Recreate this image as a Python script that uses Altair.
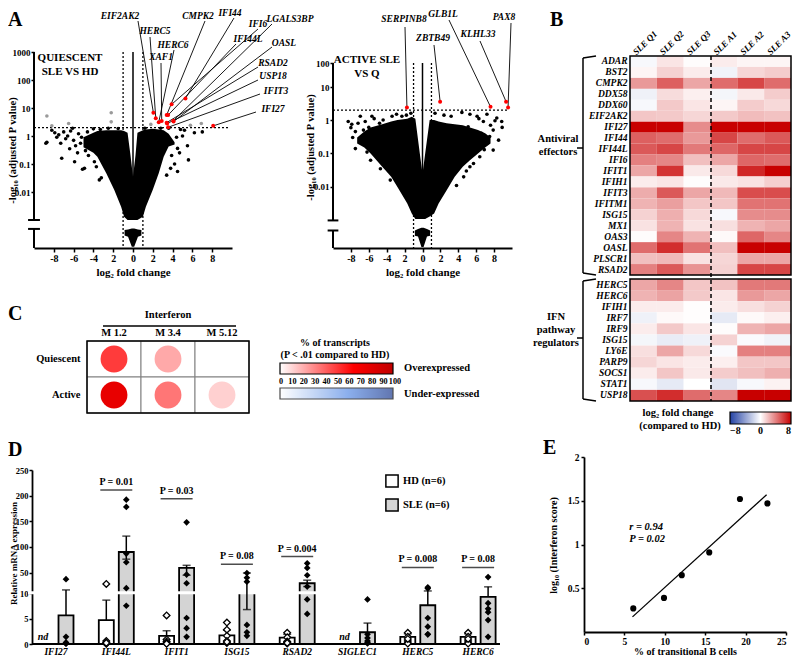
import altair as alt
import pandas as pd

FONT = "Liberation Serif"
W, H = 784, 649

# ======================= DATA =======================
# ---- Panel A (left): quiescent SLE vs HD volcano ----
qa_env_x = [-5.0, -4.0, -3.6, -2.7, -1.9, -1.2, -0.9, -0.55, -0.25, 0.0, 0.25, 0.45, 1.0, 1.3, 2.0, 2.6, 3.1, 3.6, 4.2]
qa_env_hi = [0.9, 1.3, 1.5, 1.6, 1.6, 1.6, 1.5, 1.3, 0.2, 0.035, 0.2, 1.3, 1.6, 1.7, 1.8, 1.7, 1.6, 1.2, 0.6]
qa_env_lo = [0.4, 0.25, 0.18, 0.047, 0.012, 0.003, 0.0013, 0.001, 0.001, 0.001, 0.001, 0.001, 0.0013, 0.003, 0.012, 0.047, 0.18, 0.42, 0.5]
qa_tail_x = [-0.85, -0.5, -0.12, 0.12, 0.5, 0.85]
qa_tail_hi = [0.00044, 0.00046, 0.0005, 0.0005, 0.00046, 0.00044]
qa_tail_lo = [0.00028, 0.00025, 0.00011, 0.00011, 0.00025, 0.00028]
qa_points = [(-8.8, 0.55), (-8.7, 0.6), (-7.2, 0.16), (-5.9, 0.12), (-5.1, 0.065), (-4.9, 0.07), (-3.4, 0.027),
             (-3.2, 0.032), (-8.2, 1.6), (-7.9, 1.3), (-7.5, 1.1), (-7.0, 1.4), (-6.6, 1.0), (-6.3, 1.5), (-6.0, 0.7),
             (-5.5, 1.2), (-5.2, 0.9), (-4.6, 1.4), (-4.3, 0.5), (-6.8, 0.8), (-7.7, 0.9), (-5.8, 0.45), (-6.4, 0.35),
             (-4.8, 0.3), (-3.9, 0.12), (-3.7, 0.08), (-5.3, 0.55), (-4.5, 0.2), (-6.1, 1.9), (-4.0, 1.8), (-3.3, 1.7),
             (-2.5, 1.9), (-1.5, 1.85), (-7.3, 0.55), (-5.6, 0.25), (-4.2, 0.9),
             (4.5, 0.36), (5.6, 0.14), (4.5, 0.054), (6.2, 1.3), (7.0, 1.4), (5.0, 1.0), (4.8, 1.7), (4.4, 0.9),
             (5.5, 0.45), (3.9, 0.2), (4.7, 0.25), (4.2, 0.1), (3.8, 0.07), (3.4, 0.04), (5.2, 1.6), (2.8, 1.9),
             (3.6, 1.9), (1.2, 1.9)]
qa_grey = [(-8.7, 5.2), (-6.5, 2.8), (-2.2, 6.8), (-2.2, 3.2), (6.9, 2.8), (-8.2, 2.3), (1.8, 2.6), (5.8, 2.4)]
qa_red_genes = ["EIF2AK2", "HERC5", "HERC6", "XAF1", "CMPK2", "IFI44", "IFI6", "IFI44L",
                "LGALS3BP", "OASL", "RSAD2", "USP18", "IFIT3", "IFI27"]
qa_red_fc = [2.06, 2.3, 2.6, 2.9, 3.4, 5.3, 3.9, 3.55, 4.07, 4.1, 3.4, 3.45, 3.55, 8.1]
qa_red_p = [6.8, 4.3, 3.1, 3.4, 5.6, 22, 13.5, 5.6, 3.5, 3.3, 3.0, 2.8, 2.05, 2.3]

# ---- Panel A (right): active SLE vs quiescent volcano ----
aa_env_x = [-7.3, -6.5, -5.8, -4.5, -3.5, -2.8, -1.7, -1.2, -0.8, -0.3, 0.0, 0.3, 0.8, 1.3, 1.8, 2.7, 3.6, 4.5, 5.3, 6.2, 7.0, 7.6]
aa_env_hi = [0.3, 0.45, 0.6, 0.75, 0.9, 1.0, 1.1, 1.25, 1.1, 0.1, 0.025, 0.1, 1.0, 1.0, 0.9, 0.8, 0.75, 0.7, 0.6, 0.5, 0.4, 0.3]
aa_env_lo = [0.2, 0.15, 0.1, 0.04, 0.02, 0.01, 0.0032, 0.0016, 0.0011, 0.0011, 0.0011, 0.0011, 0.0013, 0.0016, 0.0032, 0.008, 0.02, 0.04, 0.063, 0.1, 0.15, 0.2]
aa_tail_x = [-0.85, -0.5, -0.12, 0.12, 0.5, 0.85]
aa_tail_hi = [0.0005, 0.00055, 0.0006, 0.0006, 0.00055, 0.0005]
aa_tail_lo = [0.00035, 0.00033, 0.00016, 0.00016, 0.00033, 0.00035]
aa_points = [(-8.0, 0.59), (-7.5, 0.45), (-6.95, 1.3), (-7.5, 0.14), (-6.6, 0.5), (-5.65, 1.3), (-3.4, 1.3),
             (-2.9, 1.5), (-2.3, 1.3), (-5.8, 0.063), (-4.7, 0.035), (-3.6, 0.016), (-6.2, 0.11), (-6.8, 0.25),
             (-7.2, 0.8), (-6.4, 0.9), (-5.2, 0.3), (-4.4, 1.0), (-4.0, 0.4), (-5.0, 0.15), (-3.0, 0.06),
             (-2.5, 0.03), (-7.8, 0.3), (-6.0, 0.6), (-4.8, 0.8), (-1.8, 1.4), (-1.3, 1.6), (-8.3, 0.9),
             (-7.9, 0.75), (-5.4, 1.1), (-6.3, 0.18), (-4.1, 0.07),
             (8.3, 1.15), (8.85, 0.9), (7.2, 1.5), (6.1, 1.3), (5.3, 1.5), (7.9, 0.5), (8.5, 0.25), (7.9, 0.126),
             (7.2, 0.2), (6.4, 0.08), (5.3, 0.04), (4.6, 0.02), (3.8, 0.011), (6.6, 0.4), (7.5, 0.32), (4.4, 1.7),
             (5.1, 0.63), (6.8, 0.9), (7.6, 0.7), (5.8, 0.25), (6.9, 0.13), (3.2, 1.3), (2.4, 1.4), (1.4, 1.6),
             (8.9, 0.6), (8.1, 0.95), (6.3, 1.1), (5.7, 0.05), (4.9, 0.03)]
aa_red_genes = ["SERPINB8", "ZBTB49", "GLB1L", "KLHL33", "PAX8"]
aa_red_fc = [-1.74, 1.97, 7.6, 9.34, 9.56]
aa_red_p = [2.4, 3.55, 2.5, 3.6, 2.4]

# ---- Panel B (heatmap, log2 fold change vs HD) ----
samples = ["SLE Q1", "SLE Q2", "SLE Q3", "SLE A1", "SLE A2", "SLE A3"]
antiviral_genes = ["ADAR", "BST2", "CMPK2", "DDX58", "DDX60", "EIF2AK2", "IFI27", "IFI44", "IFI44L", "IFI6",
                   "IFIT1", "IFIH1", "IFIT3", "IFITM1", "ISG15", "MX1", "OAS3", "OASL", "PLSCR1", "RSAD2"]
antiviral_lfc = [
    [-0.3, 0.8, 0.1, 0.6, 0.3, 0.3],
    [0.3, 1.4, 0.6, -0.5, 1.3, 1.6],
    [3.2, 5.0, 2.8, 4.6, 5.8, 4.6],
    [-0.6, 1.1, 0.5, -0.4, 0.7, 1.6],
    [-0.3, 1.7, 0.8, 0.3, 1.6, 1.2],
    [1.8, 1.7, 1.3, 1.7, 2.1, 1.9],
    [8.0, 8.0, 3.6, 8.0, 8.0, 8.0],
    [5.0, 4.6, 3.2, 5.8, 4.6, 5.2],
    [5.2, 5.8, 4.2, 4.8, 5.8, 5.8],
    [4.0, 3.8, 2.0, 2.8, 4.8, 4.6],
    [2.8, 6.4, 0.7, 1.2, 6.8, 8.0],
    [0.6, 0.8, 0.1, 0.7, 0.9, 1.5],
    [2.6, 5.2, 2.8, 2.2, 5.6, 5.6],
    [2.4, 3.0, 1.8, 1.8, 4.4, 4.4],
    [1.4, 2.5, 1.2, -0.3, 3.6, 3.6],
    [0.9, 2.4, 0.9, 1.0, 2.4, 2.8],
    [0.1, 3.8, 2.4, 0.2, 4.8, 3.8],
    [4.6, 6.6, 4.4, 2.0, 8.0, 8.0],
    [2.0, 2.2, 0.9, 1.3, 2.8, 2.8],
    [4.0, 5.2, 3.4, 1.4, 5.8, 5.8],
]
ifn_genes = ["HERC5", "HERC6", "IFIH1", "IRF7", "IRF9", "ISG15", "LY6E", "PARP9", "SOCS1", "STAT1", "USP18"]
ifn_lfc = [
    [2.8, 3.8, 1.8, 1.9, 4.2, 4.2],
    [2.4, 2.9, 1.7, 0.8, 3.2, 2.8],
    [0.6, 0.6, 0.05, 0.6, 1.0, 1.4],
    [-0.6, 0.2, 0.05, -0.9, 0.2, 0.5],
    [0.6, 1.7, 0.8, 0.1, 2.4, 2.8],
    [-0.4, -0.8, -0.6, 1.4, -0.2, -0.5],
    [1.0, 2.8, 1.2, -0.2, 4.0, 4.0],
    [1.3, 0.8, 0.6, 0.5, 1.8, 1.8],
    [0.6, 1.8, 0.7, 1.6, 2.0, 2.5],
    [-0.3, -0.9, 0.0, -1.1, -0.3, 0.4],
    [5.5, 6.6, 4.6, 3.8, 8.0, 8.0],
]

# ---- Panel C (% of transcripts in interferon modules) ----
modules = ["M 1.2", "M 3.4", "M 5.12"]
states = ["Quiescent", "Active"]
pct_quiescent = [50, 22, 0]
pct_active = [78, 35, 12]
pct_ticks = [0, 10, 20, 30, 40, 50, 60, 70, 80, 90, 100]

# ---- Panel D (qPCR) ----
d_genes = ["IFI27", "IFI44L", "IFIT1", "ISG15", "RSAD2", "SIGLEC1", "HERC5", "HERC6"]
hd_mean = [None, 4.7, 1.6, 1.7, 1.25, None, 1.4, 1.4]
hd_upper = [None, 8.6, 2.6, 2.7, 1.9, None, 2.0, 2.0]
sle_mean = [5.6, 90, 59, 10, 29, 2.3, 7.6, 9.25]
sle_upper = [16, 121, 64, 49, 35, 4.1, 14, 22]
sle_lower = [None, 76, 44.6, 6.75, 22.6, None, None, None]
hd_values = [[], [27.6, 0.6, 0.3, 0.1, 0.05, 0.2], [5.6, 0.9, 0.5, 0.1, 0.2, 0.05],
             [4.2, 2.8, 1.6, 0.6, 0.2, 0.4], [2.2, 1.3, 0.5, 0.3, 0.1, 0.2], [],
             [2.2, 1.4, 0.6, 0.2, 0.1, 1.0], [2.2, 1.4, 0.6, 0.2, 0.1, 1.0]]
sle_values = [[37, 1.4, 0.2, 0.1, 0.3, 0.05], [192, 178, 87, 70, 19.4, 7.5], [148, 46, 29, 5.1, 3.1, 1.4],
              [49, 40, 32, 3.75, 2.3, 1.6], [68, 59, 44.6, 22.6, 8.75, 5.9], [8.75, 1.9, 1.2, 0.6, 0.3, 0.1],
              [21, 19, 5.1, 3.4, 1.9, 1.9], [41, 6.9, 6.25, 4.7, 1.4, 8.0]]
p_genes = ["IFI44L", "IFIT1", "ISG15", "RSAD2", "HERC5", "HERC6"]
p_text = ["P = 0.01", "P = 0.03", "P = 0.08", "P = 0.004", "P = 0.008", "P = 0.08"]
p_level = [211, 194, 66, 81, 60, 60]
nd_genes = ["IFI27", "SIGLEC1"]
groups = ["HD (n=6)", "SLE (n=6)"]

# ---- Panel E (correlation) ----
e_transitional = [6.1, 9.9, 12.1, 15.5, 19.3, 22.7]
e_log_ifn = [0.27, 0.39, 0.65, 0.91, 1.52, 1.47]

# ======================= LAYOUT (pixels) =======================
qa_label_layout = {  # text x, text y, leader start x, leader start y
    "EIF2AK2": (112, 8, 130, 13), "HERC5": (147, 23, 142, 29), "HERC6": (165, 37, 166, 42),
    "XAF1": (153, 49, 153, 55), "CMPK2": (190, 8, 197, 13), "IFI44": (222, 5, 226, 10),
    "IFI6": (250, 16, 250, 21), "IFI44L": (240, 31, 228, 36), "LGALS3BP": (282, 11, 264, 16),
    "OASL": (276, 35, 264, 39), "RSAD2": (265, 55, 250, 59), "USP18": (265, 68, 250, 72),
    "IFIT3": (268, 83, 252, 86), "IFI27": (265, 101, 248, 104)}
aa_label_layout = {
    "SERPINB8": (396, 11, 397, 19), "ZBTB49": (425, 30, 426, 37), "GLB1L": (435, 6, 441, 12),
    "KLHL33": (470, 26, 472, 33), "PAX8": (496, 9, 503, 15)}

AXS = dict(labelFont=FONT, labelFontWeight="bold", labelColor="black", titleFont=FONT,
           titleFontWeight="bold", titleColor="black", domainColor="black", tickColor="black", grid=False)
ONE = pd.DataFrame({"k": [0]})


def tx(s, x, y, size=10.5, style="normal", align="center", baseline="middle", weight="bold"):
    return alt.Chart(ONE).mark_text(text=s, font=FONT, fontSize=size, fontStyle=style, fontWeight=weight,
                                    align=align, baseline=baseline, color="black").encode(
        x=alt.value(x), y=alt.value(y))


def pr(x1, y1, x2, y2, w=1.5, dash=None, color="black"):
    kw = dict(color=color, strokeWidth=w)
    if dash:
        kw["strokeDash"] = dash
    return alt.Chart(ONE).mark_rule(**kw).encode(x=alt.value(x1), y=alt.value(y1), x2=alt.value(x2), y2=alt.value(y2))


def frame(x1, y1, x2, y2, w=1.5, color="black"):
    return alt.Chart(ONE).mark_rect(fillOpacity=0, stroke=color, strokeWidth=w).encode(
        x=alt.value(x1), x2=alt.value(x2), y=alt.value(y1), y2=alt.value(y2))


def volcano(env, tail, pts, grey, reds, layout, xr, ydom, yr, yvals, ytop, seg1, seg2, ybot, title_x, title_y):
    xs = alt.Scale(domain=[-10, 10], range=xr, nice=False, zero=False)
    ys = alt.Scale(type="log", domain=ydom, range=yr, nice=False)
    xaxis = alt.Axis(orient="bottom", offset=yr[0] - H, values=[-8, -6, -4, -2, 0, 2, 4, 6, 8],
                     labelExpr="datum.value == -2 ? '2' : toString(datum.value)", title="log₂ fold change",
                     labelFontSize=10, titleFontSize=11, domainWidth=2, tickWidth=1.5, tickSize=4,
                     labelPadding=1, titlePadding=3, **AXS)
    yaxis = alt.Axis(orient="left", offset=-xr[0], values=yvals, labelExpr="format(datum.value, '~g')",
                     title="-log₁₀ (adjusted P value)", domain=False, labelFontSize=9, titleFontSize=10.5,
                     tickWidth=1.5, tickSize=3, labelPadding=1, titleX=title_x, titleY=title_y, **AXS)

    def X(f):
        return alt.X(f, type="quantitative", scale=xs, axis=xaxis)

    def Y(f):
        return alt.Y(f, type="quantitative", scale=ys, axis=yaxis)

    env_df = pd.DataFrame({"x": env[0], "hi": env[1], "lo": env[2]})
    tail_df = pd.DataFrame({"x": tail[0], "hi": tail[1], "lo": tail[2]})
    layers = [
        alt.Chart(env_df).mark_area(color="black", opacity=1).encode(x=X("x"), y=Y("hi"), y2="lo:Q"),
        alt.Chart(tail_df).mark_area(color="black", opacity=1).encode(x=X("x"), y=Y("hi"), y2="lo:Q"),
        alt.Chart(pd.DataFrame(pts, columns=["x", "y"])).mark_circle(color="black", size=13, opacity=1).encode(
            x=X("x"), y=Y("y")),
    ]
    solid = pd.DataFrame({"x": [-10, -10, -10.6, -10.6], "x2": [-10, -10, -9.4, -9.4],
                          "y": [ytop, seg2, seg1, seg2], "y2": [seg1, ybot, seg1, seg2]})
    layers.append(alt.Chart(solid).mark_rule(color="black", strokeWidth=2).encode(
        x=X("x"), x2="x2:Q", y=Y("y"), y2="y2:Q"))
    zero = pd.DataFrame({"x": [0], "y": [ytop], "y2": [0.01]})
    layers.append(alt.Chart(zero).mark_rule(color="black", strokeWidth=1.5).encode(x=X("x"), y=Y("y"), y2="y2:Q"))
    dotted = pd.DataFrame({"x": [-1, 1, -10], "x2": [-1, 1, 9.6], "y": [ytop, ytop, 2], "y2": [ybot, ybot, 2]})
    layers.append(alt.Chart(dotted).mark_rule(color="black", strokeWidth=1.3, strokeDash=[2, 2]).encode(
        x=X("x"), x2="x2:Q", y=Y("y"), y2="y2:Q"))
    if grey:
        layers.append(alt.Chart(pd.DataFrame(grey, columns=["x", "y"])).mark_circle(
            color="#9a9a9a", size=13, opacity=1).encode(x=X("x"), y=Y("y")))
    for g, fx, py in zip(*reds):
        lx_t, ly_t, lx, ly = layout[g]
        one = pd.DataFrame({"x": [fx], "y": [py]})
        layers.append(alt.Chart(one).mark_rule(color="black", strokeWidth=0.9).encode(
            x=X("x"), y=Y("y"), x2=alt.value(lx), y2=alt.value(ly)))
    red_df = pd.DataFrame({"g": reds[0], "x": reds[1], "y": reds[2]})
    layers.append(alt.Chart(red_df).mark_circle(color="#ff0000", size=16, opacity=1).encode(x=X("x"), y=Y("y")))
    labels = [tx(g, layout[g][0], layout[g][1], size=9.5, style="italic") for g in reds[0]]
    return alt.layer(*layers), labels


A1, A1_labels = volcano((qa_env_x, qa_env_hi, qa_env_lo), (qa_tail_x, qa_tail_hi, qa_tail_lo), qa_points, qa_grey,
                        (qa_red_genes, qa_red_fc, qa_red_p), qa_label_layout, [26, 224], [0.0001, 1000], [240, 44],
                        [0.01, 0.1, 1, 10, 100, 1000], 1000, 0.001, 0.00048, 0.0001, -17, 142)
A2, A2_labels = volcano((aa_env_x, aa_env_hi, aa_env_lo), (aa_tail_x, aa_tail_hi, aa_tail_lo), aa_points, [],
                        (aa_red_genes, aa_red_fc, aa_red_p), aa_label_layout, [325, 504], [0.00015, 1, 10, 100],
                        [240, 112, 79, 55], [0.01, 0.1, 1, 10, 100], 100, 0.001, 0.0005, 0.00015, -18, 139)

# ---------------- Panel B ----------------
av_df = pd.DataFrame([(g, s, v) for g, row in zip(antiviral_genes, antiviral_lfc) for s, v in zip(samples, row)],
                     columns=["gene", "sample", "lfc"])
ifn_df = pd.DataFrame([(g, s, v) for g, row in zip(ifn_genes, ifn_lfc) for s, v in zip(samples, row)],
                      columns=["gene", "sample", "lfc"])
hm_x = alt.Scale(domain=samples, range=[622, 783], paddingInner=0, paddingOuter=0)
hm_color = alt.Scale(domain=[-8, 0, 8], range=["#2442a3", "#ffffff", "#c80000"], interpolate="rgb")
hm_top = alt.Axis(orient="top", offset=-48, labelAngle=-45, labelAlign="left", labelBaseline="middle",
                  labelFontStyle="italic", labelFontSize=9, ticks=False, domain=False, labelPadding=3,
                  labelOffset=-9, title=None, **AXS)


def hm_left():
    return alt.Axis(orient="left", offset=-622, labelFontStyle="italic", labelFontSize=9.5, ticks=False,
                    domain=False, labelPadding=3, title=None, **AXS)


hm_legend = alt.Legend(orient="none", legendX=722, legendY=404, direction="horizontal", gradientLength=61,
                       gradientThickness=12, values=[-8, 0, 8], title=None, labelFont=FONT,
                       labelFontWeight="bold", labelFontSize=10, labelColor="black",
                       gradientStrokeColor="black", gradientStrokeWidth=1.2, padding=0, labelOffset=2)
hm1 = alt.Chart(av_df).mark_rect().encode(
    x=alt.X("sample:N", scale=hm_x, axis=hm_top, sort=samples),
    y=alt.Y("gene:N", scale=alt.Scale(domain=antiviral_genes, range=[48, 267], paddingInner=0, paddingOuter=0),
            axis=hm_left(), sort=antiviral_genes),
    color=alt.Color("lfc:Q", scale=hm_color, legend=hm_legend))
hm2 = alt.Chart(ifn_df).mark_rect().encode(
    x=alt.X("sample:N", scale=hm_x, axis=hm_top, sort=samples),
    y=alt.Y("gene:N", scale=alt.Scale(domain=ifn_genes, range=[271, 393], paddingInner=0, paddingOuter=0),
            axis=hm_left(), sort=ifn_genes),
    color=alt.Color("lfc:Q", scale=hm_color, legend=hm_legend))
B = alt.layer(hm1, hm2).resolve_scale(y="independent")

b_extra = [
    frame(622, 48, 783, 267), frame(622, 271, 783, 393),
    pr(703, 48, 703, 393, w=1.5, dash=[4, 3]),
    pr(575, 50, 575, 265), pr(575, 50, 588, 48), pr(575, 265, 588, 267), pr(569, 140, 575, 140),
    pr(575, 273, 575, 391), pr(575, 273, 588, 271), pr(575, 391, 588, 393), pr(569, 330, 575, 330),
    tx("Antiviral", 550, 131, size=10.5), tx("effectors", 550, 144, size=10.5),
    tx("IFN", 548, 309, size=10.5), tx("pathway", 548, 322, size=10.5), tx("regulators", 548, 335, size=10.5),
    tx("log₂ fold change", 670, 405, size=10.5), tx("(compared to HD)", 672, 418, size=10.5),
]

# ---------------- Panel C ----------------
c_df = pd.DataFrame([(m, "Quiescent", v) for m, v in zip(modules, pct_quiescent)] +
                    [(m, "Active", v) for m, v in zip(modules, pct_active)], columns=["module", "state", "pct"])
cx = alt.Scale(domain=modules, range=[79, 241], paddingInner=0, paddingOuter=0)
cy = alt.Scale(domain=states, range=[333, 405], paddingInner=0, paddingOuter=0)
c_top = alt.Axis(orient="top", offset=-333, ticks=False, domain=False, labelPadding=4, labelFontSize=10.5,
                 labelAngle=0, title=None, **AXS)
c_left = alt.Axis(orient="left", offset=-79, ticks=False, domain=False, labelPadding=7, labelFontSize=10.5,
                  title=None, **AXS)
legend_common = dict(orient="none", legendX=272, direction="horizontal", gradientLength=113, gradientThickness=11,
                     values=[0, 100], title=None, labelExpr="''", labelFont=FONT, labelFontSize=8,
                     gradientStrokeColor="black", gradientStrokeWidth=1.2, padding=0)
cells = alt.Chart(c_df).mark_rect(fill="white", stroke="#808080", strokeWidth=1).encode(
    x=alt.X("module:N", scale=cx, axis=c_top, sort=modules),
    y=alt.Y("state:N", scale=cy, axis=c_left, sort=states))
circles = alt.Chart(c_df).mark_circle(size=720, opacity=1).encode(
    x=alt.X("module:N", scale=cx, axis=c_top, sort=modules),
    y=alt.Y("state:N", scale=cy, axis=c_left, sort=states),
    color=alt.Color("pct:Q", scale=alt.Scale(domain=[0, 65, 100], range=["#ffffff", "#ff0000", "#c00000"],
                                             interpolate="rgb"),
                    legend=alt.Legend(legendY=355, **legend_common)))
blue = alt.Chart(pd.DataFrame({"pct": [0, 100]})).mark_circle(size=0).encode(
    color=alt.Color("pct:Q", scale=alt.Scale(domain=[0, 60, 100], range=["#ffffff", "#5b8ee6", "#1f3c8f"],
                                             interpolate="rgb"),
                    legend=alt.Legend(legendY=380, **legend_common)))
C = alt.layer(cells, circles, blue).resolve_scale(color="independent")
c_ticks = alt.Chart(pd.DataFrame({"v": pct_ticks})).mark_text(
    font=FONT, fontSize=8.2, fontWeight="bold", color="black", baseline="middle").encode(
    x=alt.X("v:Q", scale=alt.Scale(domain=[0, 100], range=[273, 387], nice=False, zero=False), axis=None),
    y=alt.value(374), text="v:Q")
c_extra = [
    frame(79, 333, 241, 405), c_ticks,
    tx("Interferon", 160, 307, size=10.5), pr(95, 318, 228, 318, w=1.5),
    tx("% of transcripts", 327, 335, size=10), tx("(P < .01 compared to HD)", 327, 347, size=10),
    tx("Overexpressed", 396, 360, size=10.5, align="left"), tx("Under-expressed", 396, 386, size=10.5, align="left"),
]

# ---------------- Panel D ----------------
dx = alt.Scale(domain=d_genes, range=[17.85, 500.25], paddingInner=0, paddingOuter=0)
dy = alt.Scale(domain=[0, 10, 250], range=[636, 585, 462], nice=False, zero=False)
fill_scale = alt.Scale(domain=groups, range=["#ffffff", "#d4d4d4"])
d_xaxis = alt.Axis(orient="bottom", offset=636 - H, ticks=False, domain=False, labelFontStyle="italic",
                   labelFontSize=9.5, labelPadding=2, labelAngle=0, title=None, **AXS)
d_yaxis = alt.Axis(orient="left", offset=-24, values=[0, 5, 10, 50, 100, 150, 200, 250], format="d",
                   title="Relative mRNA expression", labelFontSize=8.5, titleFontSize=9, tickSize=3,
                   tickWidth=1.5, domainWidth=1.8, labelPadding=1, titleX=-14, titleY=545, **AXS)
d_legend = alt.Legend(orient="none", legendX=377, legendY=466, title=None, symbolType="square", symbolSize=150,
                      symbolStrokeColor="black", symbolStrokeWidth=1.5, labelFont=FONT, labelFontWeight="bold",
                      labelFontSize=10.5, labelColor="black", rowPadding=4, padding=0)


def DX():
    return alt.X("gene:N", scale=dx, axis=d_xaxis, sort=d_genes)


def DY(f):
    return alt.Y(f, type="quantitative", scale=dy, axis=d_yaxis)


hd_bar_df = pd.DataFrame({"gene": d_genes, "mean": hd_mean, "hi": hd_upper, "group": groups[0]}).dropna()
sle_bar_df = pd.DataFrame({"gene": d_genes, "mean": sle_mean, "hi": sle_upper, "group": groups[1]})
sle_lo_df = pd.DataFrame({"gene": d_genes, "mean": sle_mean, "lo": sle_lower}).dropna()
hd_pts = pd.DataFrame([(g, v) for g, vs in zip(d_genes, hd_values) for v in vs], columns=["gene", "v"])
sle_pts = pd.DataFrame([(g, v) for g, vs in zip(d_genes, sle_values) for v in vs], columns=["gene", "v"])
p_df = pd.DataFrame({"gene": p_genes, "t": p_text, "lvl": p_level})
nd_df = pd.DataFrame({"gene": nd_genes, "v": [1.3, 1.3]})
base_df = pd.DataFrame({"v": [0]})
break_df = pd.DataFrame({"v": [10.5]})

D = alt.layer(
    alt.Chart(hd_bar_df).mark_bar(size=15, xOffset=-10, stroke="black", strokeWidth=1.8).encode(
        x=DX(), y=DY("mean"), fill=alt.Fill("group:N", scale=fill_scale, legend=d_legend)),
    alt.Chart(sle_bar_df).mark_bar(size=15, xOffset=10, stroke="black", strokeWidth=1.8).encode(
        x=DX(), y=DY("mean"), fill=alt.Fill("group:N", scale=fill_scale, legend=d_legend)),
    alt.Chart(break_df).mark_rule(color="white", strokeWidth=3).encode(
        y=DY("v"), x=alt.value(20), x2=alt.value(500)),
    alt.Chart(base_df).mark_rule(color="black", strokeWidth=1.8).encode(
        y=DY("v"), x=alt.value(24), x2=alt.value(492)),
    alt.Chart(hd_bar_df).mark_rule(xOffset=-10, color="black", strokeWidth=1.5).encode(x=DX(), y=DY("mean"), y2="hi:Q"),
    alt.Chart(hd_bar_df).mark_tick(xOffset=-10, color="black", size=8, thickness=1.5).encode(x=DX(), y=DY("hi")),
    alt.Chart(sle_bar_df).mark_rule(xOffset=10, color="black", strokeWidth=1.5).encode(x=DX(), y=DY("mean"), y2="hi:Q"),
    alt.Chart(sle_lo_df).mark_rule(xOffset=10, color="black", strokeWidth=1.5).encode(x=DX(), y=DY("lo"), y2="mean:Q"),
    alt.Chart(sle_bar_df).mark_tick(xOffset=10, color="black", size=8, thickness=1.5).encode(x=DX(), y=DY("hi")),
    alt.Chart(sle_lo_df).mark_tick(xOffset=10, color="black", size=8, thickness=1.5).encode(x=DX(), y=DY("lo")),
    alt.Chart(hd_pts).mark_point(shape="diamond", size=45, filled=True, fill="white", stroke="black",
                                 strokeWidth=1.3, opacity=1, xOffset=-10).encode(x=DX(), y=DY("v")),
    alt.Chart(sle_pts).mark_point(shape="diamond", size=45, filled=True, color="black", opacity=1,
                                  xOffset=10).encode(x=DX(), y=DY("v")),
    alt.Chart(p_df).mark_tick(color="black", size=32, thickness=1.5).encode(x=DX(), y=DY("lvl")),
    alt.Chart(p_df).mark_text(font=FONT, fontSize=10, fontWeight="bold", color="black", dy=-8).encode(
        x=DX(), y=DY("lvl"), text="t:N"),
    alt.Chart(nd_df).mark_text(text="nd", font=FONT, fontSize=10, fontWeight="bold", fontStyle="italic",
                               color="black", xOffset=-13).encode(x=DX(), y=DY("v")),
)

# ---------------- Panel E ----------------
e_df = pd.DataFrame({"x": e_transitional, "y": e_log_ifn})
ex = alt.Scale(domain=[0, 25], range=[576, 778], nice=False, zero=False)
ey = alt.Scale(domain=[0, 2], range=[624, 449], nice=False, zero=False)
e_xaxis = alt.Axis(orient="bottom", offset=624 - H, values=[0, 5, 10, 15, 20, 25], title="% of transitional B cells",
                   labelFontSize=9.5, titleFontSize=10, tickSize=3, tickWidth=1.5, domainWidth=1.8, labelPadding=1,
                   titleX=677, titleY=14, **AXS)
e_yaxis = alt.Axis(orient="left", offset=-576, values=[0.5, 1, 1.5, 2], format="~g",
                   title="log₁₀ (Interferon score)", labelFontSize=9.5, titleFontSize=10, tickSize=3, tickWidth=1.5,
                   domainWidth=1.8, labelPadding=2, titleX=-26, titleY=537, **AXS)
e_text = pd.DataFrame({"x": [5.6, 5.6], "y": [1.2, 1.06], "t": ["r = 0.94", "P = 0.02"]})
EX = alt.X("x:Q", scale=ex, axis=e_xaxis)
EY = alt.Y("y:Q", scale=ey, axis=e_yaxis)
E = alt.layer(
    alt.Chart(e_df).mark_circle(color="black", size=38, opacity=1).encode(x=EX, y=EY),
    alt.Chart(e_df).transform_regression("x", "y", extent=[6.0, 22.6]).mark_line(
        color="black", strokeWidth=1.3).encode(x=EX, y=EY),
    alt.Chart(e_text).mark_text(font=FONT, fontSize=10.5, fontWeight="bold", fontStyle="italic", align="left",
                                color="black").encode(x=EX, y=EY, text="t:N"),
)

# ---------------- annotations ----------------
notes = [
    tx("QUIESCENT", 62, 50, size=11), tx("SLE VS HD", 62, 64, size=11),
    tx("ACTIVE SLE", 359, 52, size=11), tx("VS Q", 359, 66, size=11),
    tx("A", 0, 2, size=20, align="left", baseline="top"),
    tx("B", 542, 2, size=20, align="left", baseline="top"),
    tx("C", 0, 296, size=20, align="left", baseline="top"),
    tx("D", 0, 432, size=20, align="left", baseline="top"),
    tx("E", 535, 430, size=20, align="left", baseline="top"),
]

chart = alt.layer(A1, A2, B, C, D, E, *A1_labels, *A2_labels, *b_extra, *c_extra, *notes).resolve_scale(
    x="independent", y="independent", color="independent", fill="independent"
).properties(width=W, height=H, padding=0, autosize=alt.AutoSizeParams(type="none")).configure_view(stroke=None)

chart.save("out.html", embed_options={"renderer": "svg", "actions": False})
